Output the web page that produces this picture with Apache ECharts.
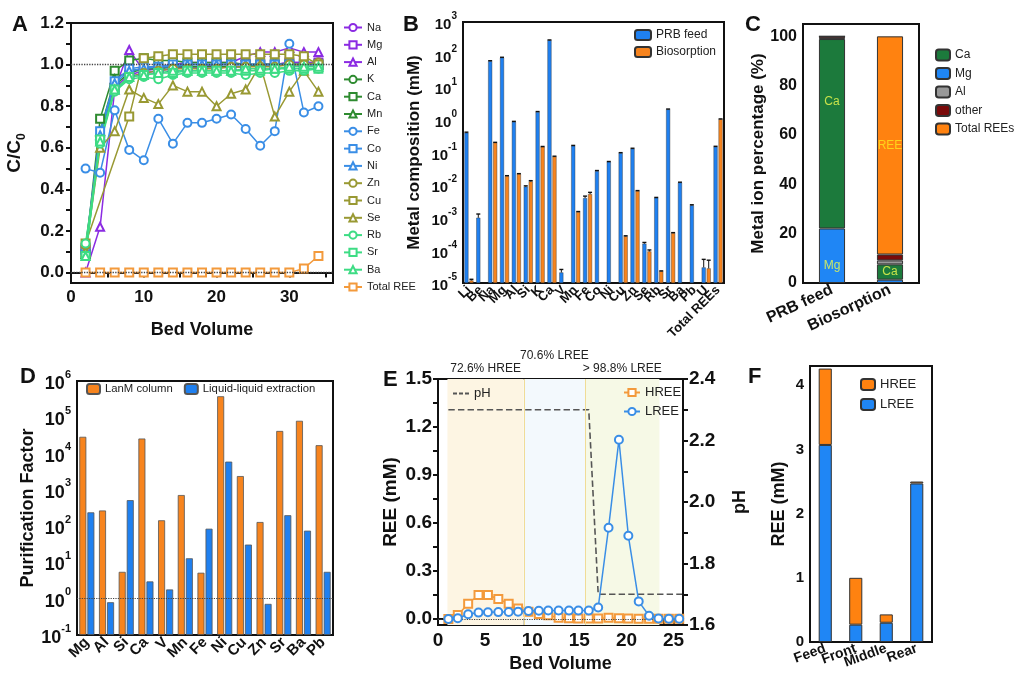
<!DOCTYPE html>
<html>
<head>
<meta charset="utf-8" />
<title>REE breakthrough and separation</title>
<script src="https://cdn.jsdelivr.net/npm/echarts@6.0.0/dist/echarts.min.js"></script>
<style>
  html, body { margin: 0; padding: 0; background: #fff; }
  #main { width: 1016px; height: 676px; }
</style>
</head>
<body>
<div id="main"></div>
<script>
// ---- A: breakthrough curves (C/C0 vs bed volume)
var bvA = [2, 4, 6, 8, 10, 12, 14, 16, 18, 20, 22, 24, 26, 28, 30, 32, 34];
var namesA = ['Na', 'Mg', 'Al', 'K', 'Ca', 'Mn', 'Fe', 'Co', 'Ni', 'Zn', 'Cu', 'Se', 'Rb', 'Sr', 'Ba', 'Total REE'];
var na  = [0.12, 0.65, 0.88, 0.94, 0.96, 0.97, 0.98, 0.99, 0.99, 0.99, 0.99, 0.99, 1.00, 1.00, 1.01, 1.01, 1.01];
var mg  = [0.11, 0.64, 0.89, 0.95, 0.97, 0.98, 0.99, 0.99, 0.99, 1.00, 1.00, 1.00, 1.00, 1.00, 1.01, 1.01, 1.01];
var al  = [0.00, 0.22, 0.88, 1.07, 0.97, 0.99, 1.00, 1.01, 1.01, 1.01, 1.01, 1.04, 1.06, 1.06, 1.08, 1.06, 1.06];
var k   = [0.10, 0.65, 0.90, 0.96, 0.98, 0.98, 0.99, 0.99, 0.99, 0.99, 0.99, 0.99, 1.00, 1.00, 1.00, 1.00, 1.00];
var ca  = [0.09, 0.74, 0.97, 1.02, 1.03, 1.02, 1.02, 1.01, 1.01, 1.01, 1.01, 1.00, 1.00, 1.00, 1.00, 1.00, 1.00];
var mn  = [0.09, 0.68, 0.93, 0.97, 0.98, 0.99, 0.99, 1.00, 1.00, 1.00, 1.00, 1.00, 1.00, 1.00, 1.00, 1.00, 1.00];
var fe  = [0.50, 0.48, 0.78, 0.59, 0.54, 0.74, 0.62, 0.72, 0.72, 0.74, 0.76, 0.69, 0.61, 0.68, 1.10, 0.77, 0.80];
var co  = [0.12, 0.68, 0.92, 0.98, 0.99, 0.99, 1.00, 1.00, 1.00, 1.00, 1.00, 1.00, 1.00, 1.00, 1.00, 1.00, 1.00];
var ni  = [0.11, 0.66, 0.91, 0.97, 0.98, 0.99, 0.99, 1.00, 1.00, 1.00, 1.00, 1.00, 1.00, 1.00, 1.00, 1.00, 1.00];
var zn  = [0.13, 0.63, 0.88, 0.94, 0.96, 0.97, 0.98, 0.98, 0.98, 0.98, 0.99, 0.99, 0.99, 0.99, 1.00, 1.00, 1.01];
var cu  = [0.14, null, null, 0.75, 1.03, 1.04, 1.05, 1.05, 1.05, 1.05, 1.05, 1.05, 1.05, 1.05, 1.05, 1.04, 1.00];
var se  = [0.10, 0.60, 0.68, 0.88, 0.84, 0.81, 0.90, 0.87, 0.87, 0.80, 0.86, 0.88, 1.00, 0.75, 0.87, 0.97, 0.87];
var rb  = [0.14, 0.62, 0.87, 0.93, 0.94, 0.93, 0.95, 0.96, 0.96, 0.96, 0.96, 0.95, 0.96, 0.96, 0.97, 0.97, 0.98];
var sr  = [0.08, 0.64, 0.88, 0.94, 0.95, 0.96, 0.96, 0.97, 0.97, 0.97, 0.97, 0.97, 0.97, 0.98, 0.98, 0.98, 0.98];
var ba  = [0.08, 0.63, 0.88, 0.94, 0.95, 0.96, 0.97, 0.97, 0.97, 0.97, 0.97, 0.98, 0.98, 0.98, 0.99, 0.99, 0.99];
var ree = [0, 0, 0, 0, 0, 0, 0, 0, 0, 0, 0, 0, 0, 0, 0, 0.02, 0.08];
var valuesA = [na, mg, al, k, ca, mn, fe, co, ni, zn, cu, se, rb, sr, ba, ree];

// ---- B: metal composition (mM), log scale; *HiB = top of error bar
var elemB = ['Li', 'Be', 'Na', 'Mg', 'Al', 'Si', 'K', 'Ca', 'V', 'Mn', 'Fe', 'Co', 'Ni', 'Cu', 'Zn', 'Se', 'Rb', 'Sr', 'Ba', 'Pb', 'U', 'Total REEs'];
var feedB   = [0.4, 0.001, 63, 81, 0.87, 0.009, 1.75, 275, 2.1e-5, 0.16, 0.004, 0.027, 0.052, 0.096, 0.13, 1.6e-4, 0.0041, 2.1, 0.012, 0.0024, 3.0e-5, 0.15];
var feedHiB = [0.42, 0.0013, 65, 83, 0.9, 0.0095, 1.8, 282, 2.6e-5, 0.165, 0.0046, 0.028, 0.053, 0.099, 0.135, 1.75e-4, 0.0042, 2.15, 0.0123, 0.0025, 5.3e-5, 0.155];
var bioB    = [1.2e-5, '-', 0.2, 0.019, 0.022, 0.013, 0.15, 0.075, '-', 0.0015, 0.0053, '-', '-', 2.7e-4, 0.0066, 9.3e-5, 2.3e-5, 3.4e-4, '-', '-', 2.8e-5, 1.05];
var bioHiB  = [1.3e-5, '-', 0.205, 0.0195, 0.0225, 0.0137, 0.153, 0.077, '-', 0.00155, 0.006, '-', '-', 2.8e-4, 0.0068, 1.03e-4, 2.35e-5, 3.5e-4, '-', '-', 5.0e-5, 1.07];

// ---- C: metal ion percentage (%)
var catC = ['PRB feed', 'Biosorption'];
var mgC    = [22.1, 1.35];
var caC    = [76.8, 6.2];
var alC    = [0.3, 1.6];
var otherC = [0.8, 2.4];
var reeC   = [0, 88.45];

// ---- D: purification factor, log scale
var elemD = ['Mg', 'Al', 'Si', 'Ca', 'V', 'Mn', 'Fe', 'Ni', 'Cu', 'Zn', 'Sr', 'Ba', 'Pb'];
var lanmD = [29000, 270, 5.5, 26000, 145, 720, 5.2, 380000, 2400, 130, 42000, 80000, 17000];
var lleD  = [240, 0.8, 520, 3, 1.8, 13, 85, 6000, 31, 0.72, 200, 75, 5.5];

// ---- E: column separation
var bvE   = [1.1, 2.1, 3.2, 4.3, 5.3, 6.4, 7.5, 8.5, 9.6, 10.7, 11.7, 12.8, 13.9, 14.9, 16.0, 17.0, 18.1, 19.2, 20.2, 21.3, 22.4, 23.4, 24.5, 25.6];
var hreeE = [0.00, 0.025, 0.095, 0.15, 0.15, 0.125, 0.095, 0.065, 0.046, 0.031, 0.023, 0.008, 0.004, 0.003, 0.003, 0.003, 0.008, 0.004, 0.003, 0.002, 0.002, 0.002, 0.002, 0.002];
var lreeE = [0.00, 0.005, 0.030, 0.040, 0.042, 0.043, 0.044, 0.046, 0.050, 0.052, 0.053, 0.053, 0.053, 0.053, 0.053, 0.072, 0.57, 1.12, 0.52, 0.11, 0.02, 0.003, 0.002, 0.002];
var phBv  = [1.1, 16.0, 17.0, 25.9];
var phE   = [2.3, 2.3, 1.7, 1.7];
var fracE = [['72.6% HREE', 1.0, 9.1], ['70.6% LREE', 9.1, 15.6], ['> 98.8% LREE', 15.6, 23.5]];

// ---- F: fractions
var catF  = ['Feed', 'Front', 'Middle', 'Rear'];
var lreeF = [3.07, 0.27, 0.30, 2.47];
var hreeF = [1.19, 0.73, 0.13, 0.03];

// ---------- styling ----------
var FONT = 'Liberation Sans, Arial, Helvetica, sans-serif';
var INK = '#111';
var BLUE = '#1f80f0', ORANGE = '#f7841e';
var colorsA = ['#8b2be2', '#8b2be2', '#8b2be2', '#2e8b30', '#2e8b30', '#2e8b30', '#3a8ee6', '#3a8ee6', '#3a8ee6',
               '#999933', '#999933', '#999933', '#3ddc84', '#3ddc84', '#3ddc84', '#f39a3c'];
var symA = ['emptyCircle', 'emptyRect', 'emptyTriangle'];

function range(a, b, s) { var r = []; for (var v = a; v <= b + 1e-9; v += s) r.push(+v.toFixed(4)); return r; }
function pow10(v) { var e = Math.round(Math.log(v) / Math.LN10); return '{b|10}{s|' + e + '}'; }
function trimName(n) { return n.trim(); }

function axisBase(grid, fs) {
  return {
    gridIndex: grid,
    axisLine: { lineStyle: { color: INK, width: 2 } },
    axisTick: { length: 5, lineStyle: { color: INK, width: 2 } },
    splitLine: { show: false },
    axisLabel: { color: INK, fontWeight: 'bold', fontSize: fs, fontFamily: FONT },
    nameTextStyle: { color: INK, fontWeight: 'bold', fontSize: 18, fontFamily: FONT },
    nameLocation: 'middle'
  };
}
function ext(o, p) { for (var key in p) o[key] = p[key]; return o; }
function logRich(b, s) {
  return {
    b: { fontSize: b, fontWeight: 'bold', color: INK, fontFamily: FONT, lineHeight: b + 6, verticalAlign: 'bottom' },
    s: { fontSize: s, fontWeight: 'bold', color: INK, fontFamily: FONT, lineHeight: s + 2, verticalAlign: 'top' }
  };
}

var gridBox = { show: true, borderColor: INK, borderWidth: 2, backgroundColor: 'transparent' };

var series = [];

// A series
namesA.forEach(function (n, i) {
  series.push({
    name: n, type: 'line', xAxisIndex: 0, yAxisIndex: 0,
    data: bvA.map(function (x, j) { return [x, valuesA[i][j]]; }),
    connectNulls: true,
    symbol: n === 'Total REE' ? 'emptyRect' : symA[i % 3], symbolSize: 8,
    lineStyle: { width: 1.5, color: colorsA[i] },
    itemStyle: { color: colorsA[i], borderWidth: 1.5 },
    markLine: i === 0 ? {
      silent: true, symbol: 'none', label: { show: false },
      lineStyle: { type: 'dotted', color: '#444', width: 1.3 },
      data: [{ yAxis: 1.0 }, { yAxis: 0 }]
    } : undefined
  });
});

// B series
series.push({ name: 'PRB feed', type: 'bar', xAxisIndex: 1, yAxisIndex: 1, data: feedB, barWidth: 4, barGap: '25%',
  itemStyle: { color: BLUE, borderColor: '#333', borderWidth: 0.4 } });
series.push({ name: 'Biosorption', type: 'bar', xAxisIndex: 1, yAxisIndex: 1, data: bioB, barWidth: 4, barGap: '25%',
  itemStyle: { color: ORANGE, borderColor: '#333', borderWidth: 0.4 } });

// error bars on B (bar centre offset of +-2.5 px from category centre)
function errSeries(vals, his, off) {
  var d = [];
  vals.forEach(function (v, i) { if (v !== '-' && his[i] !== '-') d.push([i, v, his[i]]); });
  return {
    type: 'custom', xAxisIndex: 1, yAxisIndex: 1, z: 5, silent: true,
    encode: { x: 0, y: [1, 2] },
    data: d,
    renderItem: function (params, api) {
      var lo = api.coord([api.value(0), api.value(1)]);
      var hi = api.coord([api.value(0), api.value(2)]);
      var x = lo[0] + off;
      return { type: 'group', children: [
        { type: 'line', shape: { x1: x, y1: lo[1], x2: x, y2: hi[1] }, style: { stroke: INK, lineWidth: 1 } },
        { type: 'line', shape: { x1: x - 2, y1: hi[1], x2: x + 2, y2: hi[1] }, style: { stroke: INK, lineWidth: 1.4 } }
      ] };
    }
  };
}
series.push(errSeries(feedB, feedHiB, -2.5));
series.push(errSeries(bioB, bioHiB, 2.5));

// C series (stacked)
function cItem(v, lab, color, pos, off) {
  var it = { value: v };
  if (lab) it.label = { show: true, formatter: lab, color: color, position: pos, offset: off || [0, 0], fontSize: 12, fontFamily: FONT };
  return it;
}
var cBorder = { borderColor: '#333', borderWidth: 1 };
series.push({ name: 'Mg ', type: 'bar', stack: 'c', xAxisIndex: 2, yAxisIndex: 2, barWidth: '45%',
  itemStyle: ext({ color: '#1f86f5' }, cBorder),
  data: [cItem(mgC[0], 'Mg', '#c9e86a', 'inside', [0, 10]), cItem(mgC[1])] });
series.push({ name: 'Ca ', type: 'bar', stack: 'c', xAxisIndex: 2, yAxisIndex: 2,
  itemStyle: ext({ color: '#1c7a3c' }, cBorder),
  data: [cItem(caC[0], 'Ca', '#c6e24a', 'insideTop', [0, 52]), cItem(caC[1], 'Ca', '#c6e24a', 'inside')] });
series.push({ name: 'Al ', type: 'bar', stack: 'c', xAxisIndex: 2, yAxisIndex: 2,
  itemStyle: ext({ color: '#999999' }, cBorder), data: alC });
series.push({ name: 'other', type: 'bar', stack: 'c', xAxisIndex: 2, yAxisIndex: 2,
  itemStyle: ext({ color: '#7a0a0a' }, cBorder), data: otherC });
series.push({ name: 'Total REEs', type: 'bar', stack: 'c', xAxisIndex: 2, yAxisIndex: 2,
  itemStyle: ext({ color: '#ff8210' }, cBorder),
  data: [cItem(reeC[0]), cItem(reeC[1], 'REE', '#ffd21a', 'inside')] });

// D series
series.push({ name: 'LanM column', type: 'bar', xAxisIndex: 3, yAxisIndex: 3, data: lanmD, barWidth: 7, barGap: '15%',
  itemStyle: { color: ORANGE, borderColor: '#555', borderWidth: 0.8 },
  markLine: { silent: true, symbol: 'none', label: { show: false },
    lineStyle: { type: 'dotted', color: '#444', width: 1.2 }, data: [{ yAxis: 1 }] } });
series.push({ name: 'Liquid-liquid extraction', type: 'bar', xAxisIndex: 3, yAxisIndex: 3, data: lleD, barWidth: 7, barGap: '15%',
  itemStyle: { color: BLUE, borderColor: '#555', borderWidth: 0.8 } });

// E series
var areaColors = ['#fdf5e3', '#f3f9fd', '#f6f9e6'];
series.push({
  name: 'pH', type: 'line', xAxisIndex: 4, yAxisIndex: 5, z: 2,
  data: phBv.map(function (x, j) { return [x, phE[j]]; }),
  symbol: 'none', lineStyle: { type: 'dashed', color: '#555', width: 1.6 }, itemStyle: { color: '#555' },
  markArea: {
    silent: true,
    data: fracE.map(function (f, j) {
      return [{ xAxis: f[1], name: f[0], itemStyle: { color: areaColors[j] },
                label: { show: true, position: 'top', distance: j === 1 ? 17 : 4, color: '#222', fontSize: 12, fontFamily: FONT } },
              { xAxis: f[2] }];
    })
  },
  markLine: {
    silent: true, symbol: 'none', label: { show: false },
    lineStyle: { type: 'solid', color: '#f0dc96', width: 1 },
    data: [{ xAxis: fracE[1][1] }, { xAxis: fracE[2][1] }]
  }
});
series.push({
  name: 'HREE', type: 'line', xAxisIndex: 4, yAxisIndex: 4, z: 4,
  data: bvE.map(function (x, j) { return [x, hreeE[j]]; }),
  symbol: 'emptyRect', symbolSize: 8, lineStyle: { width: 1.5, color: '#f39a3c' }, itemStyle: { color: '#f39a3c', borderWidth: 1.5 },
  markLine: { silent: true, symbol: 'none', label: { show: false },
    lineStyle: { type: 'dotted', color: '#444', width: 1.2 }, data: [{ yAxis: 0 }] }
});
series.push({
  name: 'LREE', type: 'line', xAxisIndex: 4, yAxisIndex: 4, z: 5,
  data: bvE.map(function (x, j) { return [x, lreeE[j]]; }),
  symbol: 'emptyCircle', symbolSize: 8, lineStyle: { width: 1.5, color: '#3a8ee6' }, itemStyle: { color: '#3a8ee6', borderWidth: 1.5 }
});

// F series
series.push({ name: 'LREE ', type: 'bar', stack: 'f', xAxisIndex: 5, yAxisIndex: 6, data: lreeF, barWidth: '43%',
  itemStyle: { color: '#1f86f5', borderColor: '#333', borderWidth: 1 } });
series.push({ name: 'HREE ', type: 'bar', stack: 'f', xAxisIndex: 5, yAxisIndex: 6, data: hreeF, barWidth: '43%',
  itemStyle: { color: '#ff8210', borderColor: '#333', borderWidth: 1 } });

var legendText = { color: '#222', fontFamily: FONT };

var option = {
  animation: false,
  backgroundColor: '#fff',
  textStyle: { fontFamily: FONT },
  grid: [
    ext({ left: 71, top: 23, width: 262, height: 260 }, gridBox),
    ext({ left: 463, top: 22, width: 261, height: 261 }, gridBox),
    ext({ left: 803, top: 24, width: 116, height: 259 }, gridBox),
    ext({ left: 77, top: 381, width: 256, height: 254 }, gridBox),
    ext({ left: 438, top: 379, width: 245, height: 246 }, gridBox),
    ext({ left: 810, top: 366, width: 122, height: 276 }, gridBox)
  ],
  xAxis: [
    ext(axisBase(0, 17), { type: 'value', min: 0, max: 36, name: 'Bed Volume', nameGap: 38,
      axisLabel: { color: INK, fontWeight: 'bold', fontSize: 17, fontFamily: FONT, margin: 6, customValues: [0, 10, 20, 30] },
      axisTick: { length: 5, lineStyle: { color: INK, width: 2 }, customValues: range(0, 35, 5) } }),
    ext(axisBase(1, 13), { type: 'category', data: elemB,
      axisTick: { length: 4, alignWithLabel: true, lineStyle: { color: INK, width: 1.5 } },
      axisLabel: { color: INK, fontWeight: 'bold', fontSize: 13, fontFamily: FONT, rotate: 45, interval: 0, margin: 5 } }),
    ext(axisBase(2, 16), { type: 'category', data: catC,
      axisTick: { length: 5, alignWithLabel: true, lineStyle: { color: INK, width: 2 } },
      axisLabel: { color: INK, fontWeight: 'bold', fontSize: 16, fontFamily: FONT, rotate: 25, interval: 0, margin: 6 } }),
    ext(axisBase(3, 15), { type: 'category', data: elemD,
      axisTick: { length: 4, alignWithLabel: true, lineStyle: { color: INK, width: 1.5 } },
      axisLabel: { color: INK, fontWeight: 'bold', fontSize: 15, fontFamily: FONT, rotate: 45, interval: 0, margin: 5 } }),
    ext(axisBase(4, 19), { type: 'value', min: 0, max: 26, name: 'Bed Volume', nameGap: 30,
      axisLabel: { color: INK, fontWeight: 'bold', fontSize: 19, fontFamily: FONT, margin: 6, customValues: range(0, 25, 5) },
      axisTick: { length: 5, lineStyle: { color: INK, width: 2 }, customValues: range(0, 26, 1) } }),
    ext(axisBase(5, 14), { type: 'category', data: catF,
      axisTick: { length: 5, alignWithLabel: true, lineStyle: { color: INK, width: 2 } },
      axisLabel: { color: INK, fontWeight: 'bold', fontSize: 14, fontFamily: FONT, rotate: 20, interval: 0, margin: 6 } })
  ],
  yAxis: [
    ext(axisBase(0, 17), { type: 'value', min: -0.05, max: 1.2, name: 'C/C{sub|0}', nameGap: 43,
      nameTextStyle: { color: INK, fontWeight: 'bold', fontSize: 19, fontFamily: FONT, lineHeight: 26,
        rich: { sub: { fontSize: 12, fontWeight: 'bold', color: INK, fontFamily: FONT, lineHeight: 12, verticalAlign: 'bottom' } } },
      axisLabel: { color: INK, fontWeight: 'bold', fontSize: 17, fontFamily: FONT, margin: 7, customValues: range(0, 1.2, 0.2),
        formatter: function (v) { return v.toFixed(1); } },
      axisTick: { length: 5, lineStyle: { color: INK, width: 2 }, customValues: range(0, 1.2, 0.1) } }),
    ext(axisBase(1, 15), { type: 'log', logBase: 10, min: 1e-5, max: 1e3, splitNumber: 8, startValue: 1e-5,
      name: 'Metal composition (mM)', nameGap: 40,
      nameTextStyle: { color: INK, fontWeight: 'bold', fontSize: 17, fontFamily: FONT },
      axisLabel: { formatter: pow10, rich: logRich(15, 10), margin: 6 } }),
    ext(axisBase(2, 16), { type: 'value', min: 0, max: 105, name: 'Metal ion percentage (%)', nameGap: 31,
      nameTextStyle: { color: INK, fontWeight: 'bold', fontSize: 17, fontFamily: FONT },
      axisLabel: { color: INK, fontWeight: 'bold', fontSize: 16, fontFamily: FONT, margin: 6, customValues: range(0, 100, 20) },
      axisTick: { length: 5, lineStyle: { color: INK, width: 2 }, customValues: range(0, 100, 10) } }),
    ext(axisBase(3, 18), { type: 'log', logBase: 10, min: 0.1, max: 1e6, splitNumber: 7, startValue: 0.1,
      name: 'Purification Factor', nameGap: 38,
      nameTextStyle: { color: INK, fontWeight: 'bold', fontSize: 18, fontFamily: FONT },
      axisLabel: { formatter: pow10, rich: logRich(18, 11), margin: 6 } }),
    ext(axisBase(4, 19), { type: 'value', min: -0.0375, max: 1.5, name: 'REE (mM)', nameGap: 38,
      nameTextStyle: { color: INK, fontWeight: 'bold', fontSize: 19, fontFamily: FONT },
      axisLabel: { color: INK, fontWeight: 'bold', fontSize: 19, fontFamily: FONT, margin: 6, customValues: range(0, 1.5, 0.3),
        formatter: function (v) { return v.toFixed(1); } },
      axisTick: { length: 5, lineStyle: { color: INK, width: 2 }, customValues: range(0, 1.5, 0.15) } }),
    ext(axisBase(4, 19), { type: 'value', position: 'right', min: 1.6, max: 2.4, name: 'pH', nameGap: 48, nameRotate: 90,
      nameTextStyle: { color: INK, fontWeight: 'bold', fontSize: 18, fontFamily: FONT },
      axisLabel: { color: INK, fontWeight: 'bold', fontSize: 19, fontFamily: FONT, margin: 6, customValues: range(1.6, 2.4, 0.2),
        formatter: function (v) { return v.toFixed(1); } },
      axisTick: { length: 5, lineStyle: { color: INK, width: 2 }, customValues: range(1.6, 2.4, 0.1) } }),
    ext(axisBase(5, 15), { type: 'value', min: 0, max: 4.3, name: 'REE (mM)', nameGap: 22,
      nameTextStyle: { color: INK, fontWeight: 'bold', fontSize: 18, fontFamily: FONT },
      axisLabel: { color: INK, fontWeight: 'bold', fontSize: 15, fontFamily: FONT, margin: 6, customValues: range(0, 4, 1) },
      axisTick: { length: 5, lineStyle: { color: INK, width: 2 }, customValues: range(0, 4, 0.5) } })
  ],
  legend: [
    { data: namesA, orient: 'vertical', left: 338, top: 17, itemWidth: 18, itemHeight: 9, itemGap: 6.3,
      selectedMode: false, textStyle: ext({ fontSize: 11 }, legendText) },
    { data: ['PRB feed', 'Biosorption'], orient: 'vertical', left: 629, top: 24, itemWidth: 16, itemHeight: 10, itemGap: 5,
      selectedMode: false, textStyle: ext({ fontSize: 12 }, legendText) },
    { data: ['Ca ', 'Mg ', 'Al ', 'other', 'Total REEs'], orient: 'vertical', left: 930, top: 43.5, itemWidth: 14, itemHeight: 11, itemGap: 5.5,
      selectedMode: false, formatter: trimName, textStyle: ext({ fontSize: 12 }, legendText) },
    { data: ['LanM column', 'Liquid-liquid extraction'], orient: 'horizontal', left: 81, top: 378, itemWidth: 13, itemHeight: 10, itemGap: 11,
      selectedMode: false, textStyle: ext({ fontSize: 11.3 }, legendText) },
    { data: [{ name: 'pH', icon: 'path://M0,0h4v2h-4z M6,0h4v2h-4z M12,0h4v2h-4z' }], left: 448, top: 382,
      itemWidth: 16, itemHeight: 2, selectedMode: false, textStyle: ext({ fontSize: 13 }, legendText) },
    { data: ['HREE', 'LREE'], orient: 'vertical', left: 618, top: 381, itemWidth: 16, itemHeight: 9, itemGap: 6,
      selectedMode: false, textStyle: ext({ fontSize: 13 }, legendText) },
    { data: ['HREE ', 'LREE '], orient: 'vertical', left: 855, top: 373, itemWidth: 14, itemHeight: 11, itemGap: 7,
      selectedMode: false, formatter: trimName, textStyle: ext({ fontSize: 13 }, legendText) }
  ],
  graphic: [
    { type: 'text', left: 12, top: 14, style: { text: 'A', font: 'bold 22px ' + FONT, fill: INK } },
    { type: 'text', left: 403, top: 14, style: { text: 'B', font: 'bold 22px ' + FONT, fill: INK } },
    { type: 'text', left: 745, top: 14, style: { text: 'C', font: 'bold 22px ' + FONT, fill: INK } },
    { type: 'text', left: 20, top: 366, style: { text: 'D', font: 'bold 22px ' + FONT, fill: INK } },
    { type: 'text', left: 383, top: 369, style: { text: 'E', font: 'bold 22px ' + FONT, fill: INK } },
    { type: 'text', left: 748, top: 366, style: { text: 'F', font: 'bold 22px ' + FONT, fill: INK } }
  ],
  series: series
};

var myChart = echarts.init(document.getElementById('main'));
myChart.setOption(option);
</script>
</body>
</html>
